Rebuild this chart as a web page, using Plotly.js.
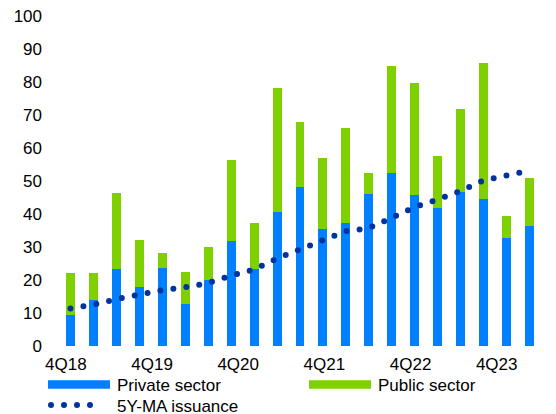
<!DOCTYPE html>
<html>
<head>
<meta charset="utf-8">
<script src="https://cdn.plot.ly/plotly-3.0.1.min.js"></script>
<style>
html, body { margin: 0; padding: 0; background: #fff; }
#chart { width: 556px; height: 414px; }
.scatterlayer .js-line { stroke-linecap: round !important; }
</style>
</head>
<body>
<div id="chart"></div>
<script>
// ---- data ----
const quarters = ['4Q18','1Q19','2Q19','3Q19','4Q19','1Q20','2Q20','3Q20','4Q20','1Q21','2Q21','3Q21','4Q21','1Q22','2Q22','3Q22','4Q22','1Q23','2Q23','3Q23','4Q23'];
const privateSector = [9.5, 13.8, 23.2, 17.8, 23.5, 12.8, 20.1, 31.9, 23.2, 40.7, 48.3, 35.5, 37.3, 46.1, 52.5, 45.8, 41.9, 46.8, 44.5, 32.6, 36.5];
const totalIssuance = [22.1, 22.0, 46.4, 32.0, 28.1, 22.3, 30.0, 56.5, 37.4, 78.1, 68.0, 56.9, 66.2, 52.3, 84.8, 79.8, 57.7, 71.8, 85.8, 39.3, 51.0];
const publicSector = totalIssuance.map((t, i) => +(t - privateSector[i]).toFixed(1));
const ma5y = [11.4, 12.5, 14.2, 15.7, 16.9, 17.8, 19.1, 21.3, 23.2, 26.5, 29.4, 32.0, 34.8, 35.7, 38.8, 42.1, 44.4, 47.0, 50.2, 51.9, 53.2];
const tickLabels = ['4Q18','4Q19','4Q20','4Q21','4Q22','4Q23'];
const seriesNames = ['Private sector', 'Public sector', '5Y-MA issuance'];

const xIdx = quarters.map((q, i) => i);
const font = 'Liberation Sans, Arial, sans-serif';

const data = [
  { type: 'bar', x: xIdx, y: privateSector, name: seriesNames[0], marker: { color: '#0080ff' }, hovertext: quarters },
  { type: 'bar', x: xIdx, y: publicSector, name: seriesNames[1], marker: { color: '#7ed000' }, hovertext: quarters },
  { type: 'scatter', mode: 'lines', x: xIdx, y: ma5y, name: seriesNames[2],
    line: { color: '#0033a0', width: 6, dash: '0px,13.1px' }, hovertext: quarters }
];

const layout = {
  width: 556, height: 414,
  margin: { l: 59, r: 15, t: 16, b: 68, autoexpand: false },
  paper_bgcolor: '#fff', plot_bgcolor: '#fff',
  font: { family: font, size: 17, color: '#000' },
  barmode: 'stack',
  bargap: 0.61,
  showlegend: true,
  legend: {
    orientation: 'h', traceorder: 'normal',
    xref: 'paper', yref: 'paper',
    x: (43 - 59) / 482, y: (346 - 367) / 330, xanchor: 'left', yanchor: 'top',
    entrywidth: 182, entrywidthmode: 'pixels',
    itemwidth: 64,
    font: { family: font, size: 17, color: '#000' },
    bgcolor: 'rgba(0,0,0,0)'
  },
  xaxis: {
    range: [-0.5, quarters.length - 0.5],
    tickmode: 'array',
    tickvals: tickLabels.map((t, k) => -0.2 + 3.754 * k),
    ticktext: tickLabels,
    showgrid: false, zeroline: false, showline: false, ticks: '',
    ticklabelstandoff: 6,
    tickfont: { family: font, size: 17, color: '#000' }
  },
  yaxis: {
    range: [0, 100], tickmode: 'linear', tick0: 0, dtick: 10,
    showgrid: false, zeroline: false, showline: false, ticks: '',
    ticklabelstandoff: 16,
    tickfont: { family: font, size: 17, color: '#000' }
  }
};

function parseTr(tr) {
  const m = /translate\(\s*([-\d.e]+)[ ,]+([-\d.e]+)\s*\)/.exec(tr || '');
  return m ? [parseFloat(m[1]), parseFloat(m[2])] : [0, 0];
}

const gd = document.getElementById('chart');
Plotly.newPlot(gd, data, layout, { staticPlot: true, displayModeBar: false }).then(() => {
  const leg = gd.querySelector('.legend');
  if (leg) {
    leg.querySelectorAll('[clip-path]').forEach(el => el.removeAttribute('clip-path'));
  }
  const groups = gd.querySelectorAll('.legend .traces');
  let firstY = null;
  groups.forEach((g, i) => {
    const tr = parseTr(g.getAttribute('transform'));
    if (i === 0) firstY = tr[1];
    if (i < 2) {
      g.querySelectorAll('.legendpoints, .legendsymbols').forEach(lp => lp.removeAttribute('transform'));
      g.querySelectorAll('.legendpoints path').forEach(p => {
        p.removeAttribute('transform');
        p.setAttribute('d', 'M5,-4.3h62v8.6h-62Z');
      });
    } else {
      g.querySelectorAll('.legendlines path').forEach(p => {
        p.setAttribute('d', 'M8,0h52');
        p.style.strokeLinecap = 'round';
        p.style.strokeDasharray = '0px,13px';
      });
      if (firstY !== null && tr[1] > firstY + 5) {
        g.setAttribute('transform', 'translate(' + tr[0] + ',' + (firstY + 20.5) + ')');
      }
    }
  });
});
</script>
</body>
</html>
